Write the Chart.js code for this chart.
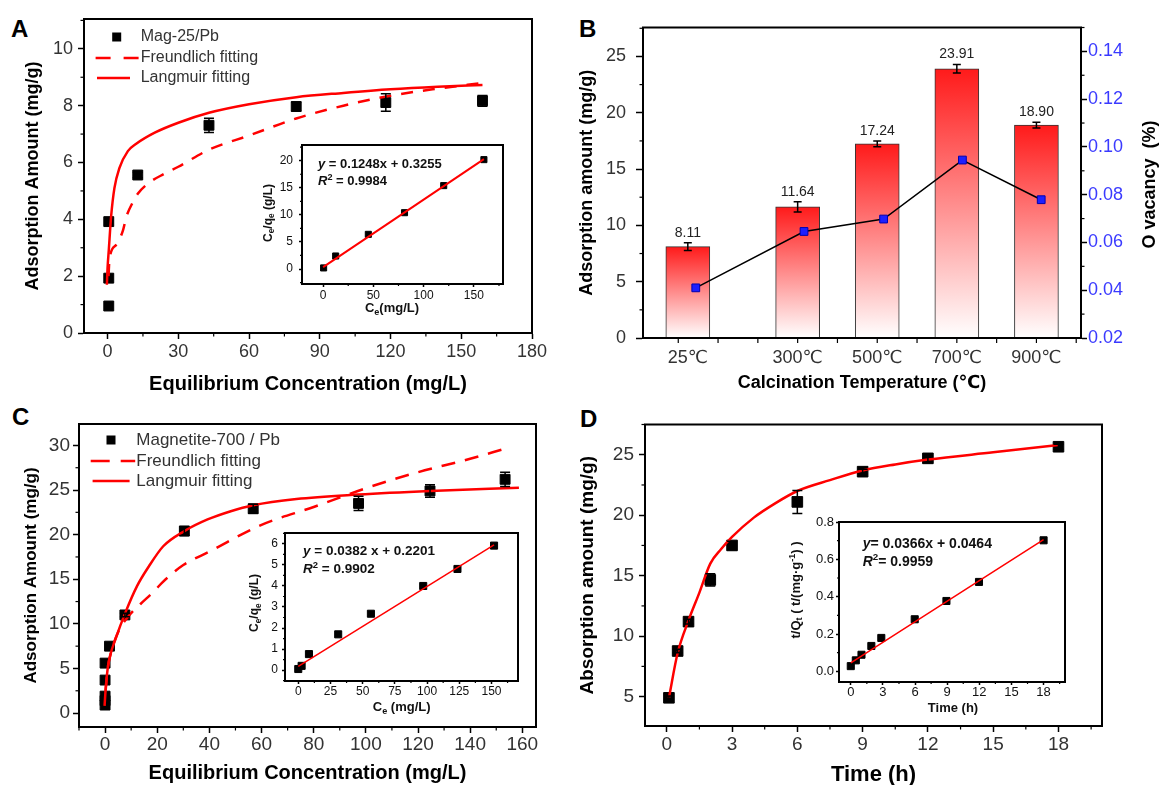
<!DOCTYPE html>
<html>
<head>
<meta charset="utf-8">
<script src="https://cdn.jsdelivr.net/npm/chart.js@4.4.1/dist/chart.umd.min.js"></script>
<style>
body { margin: 0; width: 1161px; height: 785px; overflow: hidden; background: #fff; position: relative; }
canvas { position: absolute; }
.letter { position: absolute; font: bold 24px Arial, "Liberation Sans", sans-serif; line-height: 24px; color: #000; }
</style>
</head>
<body>
<div class="letter" style="left:11px;top:17px">A</div>
<div class="letter" style="left:579px;top:17px">B</div>
<div class="letter" style="left:12px;top:405px">C</div>
<div class="letter" style="left:580px;top:407px">D</div>
<canvas id="cA"></canvas>
<canvas id="cAin"></canvas>
<canvas id="cB"></canvas>
<canvas id="cC"></canvas>
<canvas id="cCin"></canvas>
<canvas id="cD"></canvas>
<canvas id="cDin"></canvas>
<script>
// ---- panel A: Mag-25/Pb isotherm
const aCe = [0.5, 0.5, 0.5, 12.8, 43, 80, 118, 159]
const aQe = [0.95, 1.93, 3.92, 5.56, 7.31, 7.97, 8.11, 8.17]
const aErr = [0, 0, 0, 0.1, 0.25, 0.15, 0.31, 0.19]
const aLangX = [-0.3, 0, 0.5, 1.5, 2.9, 5, 8.6, 12, 20, 30, 43, 60, 80, 100, 120, 140, 159]
const aLangY = [1.7, 2.3, 2.9, 4.1, 5.1, 5.8, 6.4, 6.65, 7.05, 7.4, 7.75, 8.05, 8.3, 8.45, 8.58, 8.67, 8.73]
const aFreuX = [0.4, 0.8, 3.6, 6.5, 8, 10.7, 12.8, 17.8, 24, 30, 43, 60, 80, 100, 120, 140, 159]
const aFreuY = [2.0, 2.6, 3.1, 3.6, 4.1, 4.6, 4.9, 5.3, 5.6, 5.85, 6.45, 6.95, 7.55, 8.0, 8.35, 8.6, 8.8]
const aXTicks = [0, 30, 60, 90, 120, 150, 180]
const aYTicks = [0, 2, 4, 6, 8, 10]
// inset A: linear Langmuir form
const aInX = [0.5, 12.5, 45, 81, 120, 160]
const aInY = [0.2, 2.4, 6.4, 10.4, 15.4, 20.2]
const aFitX = [0, 160]
const aFitY = [0.35, 20.3]
const aInXTicks = [0, 50, 100, 150]
const aInYTicks = [0, 5, 10, 15, 20]

// ---- panel B: calcination temperature
const tempLabels = ['25℃', '300℃', '500℃', '700℃', '900℃']
const tempPos = [0.62, 2, 3, 4, 5]
const adsorb = [8.11, 11.64, 17.24, 23.91, 18.90]
const adsorbErr = [0.35, 0.45, 0.25, 0.37, 0.25]
const vacPos = [0.72, 2.08, 3.08, 4.07, 5.06]
const vacancy = [0.041, 0.0646, 0.0698, 0.0945, 0.0779]
const bLeftTicks = [0, 5, 10, 15, 20, 25]
const bRightTicks = [0.02, 0.04, 0.06, 0.08, 0.10, 0.12, 0.14]
const bTickMarks = [0.5, 1, 1.5, 2, 2.5, 3, 3.5, 4, 4.5, 5, 5.5]

// ---- panel C: Magnetite-700/Pb isotherm
const cCe = [0, 0, 0, 0, 0, 1.7, 7.6, 30.4, 56.8, 97.2, 124.6, 153.4]
const cQe = [0.9, 1.4, 1.9, 3.7, 5.6, 7.5, 11.0, 20.4, 22.9, 23.5, 24.9, 26.2]
const cErr = [0, 0, 0, 0, 0, 0, 0.2, 0.5, 0.5, 0.8, 0.7, 0.8]
const cLangX = [-0.2, 0.3, 1, 2, 4, 7.7, 12.2, 16.7, 22.3, 30.4, 39.3, 47.9, 56.8, 73.4, 97, 124.6, 158.7]
const cLangY = [0.8, 3.0, 5.0, 6.5, 8.3, 11.2, 14.2, 16.4, 18.7, 20.4, 21.7, 22.6, 23.3, 24.0, 24.5, 24.9, 25.25]
const cFreuX = [0.2, 1, 2.5, 5.2, 9.7, 13.5, 18.6, 21.8, 26, 30, 40, 60, 80, 100, 120, 140, 153]
const cFreuY = [2.5, 5.0, 7.0, 9.2, 11.1, 12.2, 13.6, 14.6, 15.7, 16.6, 18.1, 21.1, 23.1, 25.2, 27.0, 28.5, 29.6]
const cXTicks = [0, 20, 40, 60, 80, 100, 120, 140, 160]
const cYTicks = [0, 5, 10, 15, 20, 25, 30]
// inset C
const cInX = [0, 2.6, 8.3, 31, 56.4, 97, 123.6, 152]
const cInY = [0.05, 0.2, 0.76, 1.7, 2.68, 4.0, 4.81, 5.92]
const cFitX = [0, 152]
const cFitY = [0.18, 5.95]
const cInXTicks = [0, 25, 50, 75, 100, 125, 150]
const cInYTicks = [0, 1, 2, 3, 4, 5, 6]

// ---- panel D: kinetics
const tHours = [0.1, 0.5, 1, 2, 3, 6, 9, 12, 18]
const dQt = [4.9, 8.77, 11.2, 14.65, 17.5, 21.1, 23.6, 24.7, 25.66]
const dErr = [0.15, 0.15, 0.2, 0.5, 0.35, 0.95, 0.2, 0.35, 0.2]
const dFitX = [0.1, 0.5, 1, 1.5, 2, 2.5, 3, 4, 5, 6, 7.5, 9, 10.5, 12, 15, 18]
const dFitY = [4.9, 8.6, 11.3, 13.6, 16.0, 17.2, 18.2, 19.8, 21.0, 22.0, 22.9, 23.7, 24.2, 24.6, 25.2, 25.8]
const dXTicks = [0, 3, 6, 9, 12, 15, 18]
const dYTicks = [5, 10, 15, 20, 25]
// inset D: pseudo-second-order
const dInX = [0, 0.47, 1, 1.92, 2.85, 5.97, 8.93, 11.97, 18]
const dInY = [0.028, 0.059, 0.089, 0.136, 0.179, 0.279, 0.377, 0.479, 0.702]
const dLinX = [0, 18]
const dLinY = [0.045, 0.706]
const dInXTicks = [0, 3, 6, 9, 12, 15, 18]
const dInYTicks = [0, 0.2, 0.4, 0.6, 0.8]

const FONT = "Arial, 'Liberation Sans', 'DejaVu Sans', sans-serif"
const RED = '#ff0000'
Chart.defaults.font.family = FONT

function pts(xs, ys) {
    return xs.map((x, i) => ({ x: x, y: ys[i] }))
}

function axis(o) {
    const horiz = o.pos === 'bottom'
    return {
        type: 'linear', position: o.pos, min: o.min, max: o.max, offset: false,
        afterBuildTicks: s => { s.ticks = o.ticks.map(v => ({ value: v })) },
        afterFit: s => {
            if (horiz) s.height = o.size
            else s.width = o.size
            s.paddingLeft = 0; s.paddingRight = 0; s.paddingTop = 0; s.paddingBottom = 0
        },
        grid: { offset: false, drawOnChartArea: false, drawTicks: o.tick > 0, tickLength: o.tick || 0, tickColor: '#000', tickWidth: o.tw || 1.5 },
        border: { color: '#000', width: 2 },
        ticks: {
            autoSkip: false, maxRotation: 0, padding: o.pad, color: o.color || '#333',
            font: { family: FONT, size: o.font }, callback: o.fmt || (v => v)
        },
        title: {
            display: !!o.title, text: o.title || '', color: '#000', padding: 0,
            font: { family: FONT, size: o.tsize, weight: 'bold' }
        }
    }
}

function tickMark(c, s, v, len) {
    const p = s.getPixelForValue(v)
    c.beginPath()
    if (s.position === 'bottom') { c.moveTo(p, s.top); c.lineTo(p, s.top + len) }
    else if (s.position === 'left') { c.moveTo(s.right, p); c.lineTo(s.right - len, p) }
    else { c.moveTo(s.left, p); c.lineTo(s.left + len, p) }
    c.stroke()
}

// box around the plot, minor ticks, white fill for insets
const frame = {
    id: 'frame',
    beforeDraw(ch, args, o) {
        if (!o.fill) return
        const a = ch.chartArea
        ch.ctx.save()
        ch.ctx.fillStyle = '#fff'
        ch.ctx.fillRect(a.left, a.top, a.right - a.left, a.bottom - a.top)
        ch.ctx.restore()
    },
    afterDraw(ch, args, o) {
        const a = ch.chartArea, c = ch.ctx
        c.save()
        c.strokeStyle = '#000'
        c.lineWidth = 2
        c.strokeRect(a.left, a.top, a.right - a.left, a.bottom - a.top)
        c.lineWidth = 1.2
        for (const id of o.minor || []) {
            const s = ch.scales[id], v = s.ticks.map(t => t.value)
            const step = v[1] - v[0]
            for (let m = v[0] - step / 2; m <= s.max + 1e-9; m += step) {
                if (m < s.min - 1e-9) continue
                tickMark(c, s, m, o.mlen)
            }
        }
        if (o.marks) {
            for (const m of o.marks.values) tickMark(c, ch.scales[o.marks.id], m, o.marks.len)
        }
        c.restore()
    }
}

const errBars = {
    id: 'errBars',
    afterDatasetsDraw(ch, args, o) {
        const c = ch.ctx
        c.save()
        c.strokeStyle = '#000'
        c.lineWidth = 1.5
        ch.data.datasets.forEach(ds => {
            if (!ds.err) return
            const xs = ch.scales[ds.xAxisID || 'x'], ys = ch.scales[ds.yAxisID || 'y']
            ds.data.forEach((p, i) => {
                const e = ds.err[i]
                if (!e) return
                const x = xs.getPixelForValue(p.x)
                const y1 = ys.getPixelForValue(p.y - e), y2 = ys.getPixelForValue(p.y + e)
                const w = o.cap || 4
                c.beginPath()
                c.moveTo(x, y1); c.lineTo(x, y2)
                c.moveTo(x - w, y1); c.lineTo(x + w, y1)
                c.moveTo(x - w, y2); c.lineTo(x + w, y2)
                c.stroke()
            })
        })
        c.restore()
    }
}

function drawParts(c, x, y, it) {
    const fontOf = p => (p.i ? 'italic ' : '') + (it.bold ? 'bold ' : '') +
        ((p.sub || p.sup) ? it.size * 0.7 : it.size) + 'px ' + FONT
    let w = 0
    for (const p of it.parts) { c.font = fontOf(p); w += c.measureText(p.t).width }
    c.translate(x, y)
    if (it.rot) c.rotate(it.rot)
    let cx = it.align === 'center' ? -w / 2 : 0
    c.textBaseline = 'middle'
    c.textAlign = 'left'
    for (const p of it.parts) {
        c.font = fontOf(p)
        const dy = p.sub ? it.size * 0.3 : p.sup ? -it.size * 0.3 : 0
        c.fillText(p.t, cx, dy)
        cx += c.measureText(p.t).width
    }
}

// legends, equations and rotated titles, placed from the plot's top-left corner
const notes = {
    id: 'notes',
    afterDraw(ch, args, o) {
        const a = ch.chartArea, c = ch.ctx
        for (const it of o.items || []) {
            c.save()
            const x = a.left + it.x, y = a.top + it.y
            c.fillStyle = it.color || '#000'
            c.strokeStyle = it.color || '#000'
            if (it.kind === 'square') {
                c.fillRect(x - it.s / 2, y - it.s / 2, it.s, it.s)
            } else if (it.kind === 'line') {
                c.lineWidth = it.w
                c.setLineDash(it.dash || [])
                c.beginPath()
                c.moveTo(x, y)
                c.lineTo(a.left + it.x2, y)
                c.stroke()
            } else {
                drawParts(c, x, y, it)
            }
            c.restore()
        }
    }
}

const barLabels = {
    id: 'barLabels',
    afterDatasetsDraw(ch) {
        const ds = ch.data.datasets[0], xs = ch.scales.x, ys = ch.scales.y, c = ch.ctx
        c.save()
        c.font = '14px ' + FONT
        c.fillStyle = '#222'
        c.textAlign = 'center'
        c.textBaseline = 'bottom'
        ds.data.forEach((p, i) => {
            c.fillText(p.y.toFixed(2), xs.getPixelForValue(p.x), ys.getPixelForValue(p.y + ds.err[i]) - 3)
        })
        c.restore()
    }
}

function make(id, area, yW, xH, rW, padR, config) {
    const cv = document.getElementById(id)
    cv.width = area.r - area.l + yW + rW + padR
    cv.height = area.b - area.t + xH + 6
    cv.style.left = (area.l - yW) + 'px'
    cv.style.top = (area.t - 6) + 'px'
    config.options.responsive = false
    config.options.animation = false
    config.options.events = []
    config.options.layout = { padding: { top: 6, right: padR, left: 0, bottom: 0 } }
    config.options.plugins.legend = { display: false }
    config.options.plugins.tooltip = { enabled: false }
    config.plugins = [frame, errBars, notes].concat(config.plugins || [])
    return new Chart(cv, config)
}

function markers(xs, ys, r, err) {
    return {
        type: 'scatter', data: pts(xs, ys), err: err, pointStyle: 'rect', pointRadius: r,
        pointBackgroundColor: '#000', pointBorderColor: '#000', pointBorderWidth: 1, order: 1
    }
}

function curve(xs, ys, w, dash) {
    return {
        type: 'line', data: pts(xs, ys), pointRadius: 0, borderColor: RED, borderWidth: w,
        borderDash: dash || [], cubicInterpolationMode: 'monotone', fill: false, order: 0
    }
}

function legendItems(label, dashPat, dy0, sq, tx, dash, solid, size) {
    return [
        { kind: 'square', x: sq, y: dy0, s: 9 },
        { x: tx, y: dy0, size: size, color: '#333', parts: [{ t: label }] },
        { kind: 'line', x: dash[0], x2: dash[1], y: dy0 + 21, w: 2.5, dash: dashPat, color: RED },
        { x: tx, y: dy0 + 21, size: size, color: '#333', parts: [{ t: 'Freundlich fitting' }] },
        { kind: 'line', x: solid[0], x2: solid[1], y: dy0 + 41, w: 2.5, color: RED },
        { x: tx, y: dy0 + 41, size: size, color: '#333', parts: [{ t: 'Langmuir fitting' }] }
    ]
}

function eqItems(x, y, eq, r2, size) {
    return [
        { x: x, y: y, size: size, bold: true, color: '#111', parts: [{ t: 'y', i: 1 }, { t: eq }] },
        { x: x, y: y + 17.5, size: size, bold: true, color: '#111', parts: [{ t: 'R', i: 1 }, { t: '2', sup: 1 }, { t: r2 }] }
    ]
}

const ceqe = [{ t: 'C' }, { t: 'e', sub: 1 }, { t: '/q' }, { t: 'e', sub: 1 }, { t: ' (g/L)' }]

// ---------------- A
make('cA', { l: 84, t: 17, r: 532, b: 333 }, 62, 63, 0, 22, {
    type: 'scatter',
    data: { datasets: [
        markers(aCe, aQe, 7, aErr),
        curve(aFreuX, aFreuY, 2.5, [12, 10]),
        curve(aLangX, aLangY, 2.5)
    ] },
    options: {
        scales: {
            x: axis({ pos: 'bottom', min: -10, max: 180, ticks: aXTicks, size: 63, tick: 6, pad: 2, font: 18, title: 'Equilibrium Concentration (mg/L)', tsize: 20 }),
            y: axis({ pos: 'left', min: 0, max: 11.05, ticks: aYTicks, size: 62, tick: 6, pad: 5, font: 18, title: 'Adsorption Amount (mg/g)', tsize: 18 })
        },
        plugins: {
            frame: { minor: ['x', 'y'], mlen: 3.5 },
            errBars: { cap: 5 },
            notes: { items: legendItems('Mag-25/Pb', [15, 13], 18, 32.7, 56.7, [11.6, 55], [13, 46], 16) }
        }
    }
})

make('cAin', { l: 302, t: 145, r: 503, b: 284 }, 41, 32, 0, 22, {
    type: 'scatter',
    data: { datasets: [
        markers(aInX, aInY, 4.3),
        curve(aFitX, aFitY, 2)
    ] },
    options: {
        scales: {
            x: axis({ pos: 'bottom', min: -21, max: 179, ticks: aInXTicks, size: 32, tick: 3, pad: 1, font: 12, color: '#111' }),
            y: axis({ pos: 'left', min: -2.77, max: 22.9, ticks: aInYTicks, size: 41, tick: 3, pad: 6, font: 12, color: '#111' })
        },
        plugins: {
            frame: { fill: true, minor: ['x', 'y'], mlen: 2 },
            notes: { items: eqItems(16, 19, ' = 0.1248x + 0.3255', ' = 0.9984', 13).concat([
                { x: -33.5, y: 68, rot: -Math.PI / 2, align: 'center', size: 12, bold: true, color: '#111', parts: ceqe },
                { x: 90, y: 163.3, align: 'center', size: 13, bold: true, color: '#111', parts: [{ t: 'C' }, { t: 'e', sub: 1 }, { t: '(mg/L)' }] }
            ]) }
        }
    }
})

// ---------------- B
function barFill(ctx) {
    const ch = ctx.chart
    if (!ch.chartArea || ctx.type !== 'data') return '#ff8080'
    const y = ch.scales.y
    const top = y.getPixelForValue(ctx.parsed.y), bot = y.getPixelForValue(0)
    const g = ch.ctx.createLinearGradient(0, top, 0, bot)
    g.addColorStop(0, '#ff1a1a')
    g.addColorStop(1, '#ffffff')
    return g
}

const bX = axis({ pos: 'bottom', min: 0.057, max: 5.56, ticks: tempPos, size: 56, tick: 0, pad: 9, font: 18, title: 'Calcination Temperature (℃)', tsize: 18, fmt: (v, i) => tempLabels[i] })
const bY = axis({ pos: 'left', min: 0, max: 27.57, ticks: bLeftTicks, size: 67, tick: 7, pad: 10, font: 18, title: 'Adsorption amount (mg/g)', tsize: 18 })
const bY1 = axis({ pos: 'right', min: 0.02, max: 0.15, ticks: bRightTicks, size: 80, tick: 6, pad: 1, font: 18, color: '#3a3aff', fmt: v => v.toFixed(2) })

make('cB', { l: 643, t: 27, r: 1081, b: 338 }, 67, 56, 80, 0, {
    type: 'bar',
    data: { datasets: [
        {
            type: 'bar', data: pts(tempPos, adsorb), err: adsorbErr, yAxisID: 'y',
            barThickness: 44, backgroundColor: barFill, borderColor: '#333', borderWidth: 1, order: 1
        },
        {
            type: 'line', data: pts(vacPos, vacancy), yAxisID: 'y1', borderColor: '#000', borderWidth: 1.5,
            pointStyle: 'rect', pointRadius: 5.5, pointBackgroundColor: '#1e1eff', pointBorderColor: '#0000b0',
            pointBorderWidth: 1, tension: 0, order: 0
        }
    ] },
    options: {
        scales: { x: bX, y: bY, y1: bY1 },
        plugins: {
            frame: { minor: ['y', 'y1'], mlen: 3.5, marks: { id: 'x', values: bTickMarks, len: 5 } },
            errBars: { cap: 4 },
            notes: { items: [
                { x: 507, y: 157, rot: -Math.PI / 2, align: 'center', size: 18, bold: true, color: '#000', parts: [{ t: 'O vacancy  (%)' }] }
            ] }
        }
    },
    plugins: [barLabels]
})

// ---------------- C
make('cC', { l: 79, t: 422, r: 536, b: 727 }, 58, 58, 0, 22, {
    type: 'scatter',
    data: { datasets: [
        markers(cCe, cQe, 7, cErr),
        curve(cFreuX, cFreuY, 2.5, [14, 10]),
        curve(cLangX, cLangY, 2.5)
    ] },
    options: {
        scales: {
            x: axis({ pos: 'bottom', min: -10, max: 165.25, ticks: cXTicks, size: 58, tick: 6, pad: 0, font: 19, title: 'Equilibrium Concentration (mg/L)', tsize: 20 }),
            y: axis({ pos: 'left', min: -1.56, max: 32.4, ticks: cYTicks, size: 58, tick: 6, pad: 3, font: 19, title: 'Adsorption Amount (mg/g)', tsize: 17 })
        },
        plugins: {
            frame: { minor: ['x', 'y'], mlen: 3.5 },
            errBars: { cap: 5 },
            notes: { items: legendItems('Magnetite-700 / Pb', [19, 11], 16, 32, 57.3, [11.7, 56.2], [13.6, 50.6], 17) }
        }
    }
})

make('cCin', { l: 285, t: 533, r: 518, b: 681 }, 37, 35, 0, 22, {
    type: 'scatter',
    data: { datasets: [
        markers(cInX, cInY, 5),
        curve(cFitX, cFitY, 1.5)
    ] },
    options: {
        scales: {
            x: axis({ pos: 'bottom', min: -10.3, max: 170.6, ticks: cInXTicks, size: 35, tick: 3, pad: 0, font: 12, color: '#111' }),
            y: axis({ pos: 'left', min: -0.52, max: 6.52, ticks: cInYTicks, size: 37, tick: 3, pad: 4, font: 12, color: '#111' })
        },
        plugins: {
            frame: { fill: true, minor: ['x', 'y'], mlen: 2 },
            notes: { items: eqItems(18, 18.7, ' = 0.0382 x + 0.2201', ' = 0.9902', 13.5).concat([
                { x: -30, y: 70, rot: -Math.PI / 2, align: 'center', size: 12, bold: true, color: '#111', parts: ceqe },
                { x: 116.7, y: 174.7, align: 'center', size: 13, bold: true, color: '#111', parts: [{ t: 'C' }, { t: 'e', sub: 1 }, { t: ' (mg/L)' }] }
            ]) }
        }
    }
})

// ---------------- D
make('cD', { l: 645, t: 422, r: 1102, b: 726 }, 69, 62, 0, 22, {
    type: 'scatter',
    data: { datasets: [
        markers(tHours, dQt, 7.5, dErr),
        curve(dFitX, dFitY, 2.5)
    ] },
    options: {
        scales: {
            x: axis({ pos: 'bottom', min: -1, max: 20, ticks: dXTicks, size: 62, tick: 6, pad: 1, font: 19, title: 'Time (h)', tsize: 22 }),
            y: axis({ pos: 'left', min: 2.57, max: 27.5, ticks: dYTicks, size: 69, tick: 6, pad: 5, font: 19, title: 'Absorption amount (mg/g)', tsize: 19 })
        },
        plugins: {
            frame: { minor: ['x', 'y'], mlen: 3.5 },
            errBars: { cap: 5 }
        }
    }
})

make('cDin', { l: 839, t: 522, r: 1065, b: 682 }, 50, 34, 0, 22, {
    type: 'scatter',
    data: { datasets: [
        markers(dInX, dInY, 5),
        curve(dLinX, dLinY, 1.5)
    ] },
    options: {
        scales: {
            x: axis({ pos: 'bottom', min: -1.1, max: 20, ticks: dInXTicks, size: 34, tick: 3, pad: 0, font: 13, color: '#111' }),
            y: axis({ pos: 'left', min: -0.057, max: 0.8, ticks: dInYTicks, size: 50, tick: 3, pad: 2, font: 13, color: '#111', fmt: v => v.toFixed(1) })
        },
        plugins: {
            frame: { fill: true, minor: ['x', 'y'], mlen: 2 },
            notes: { items: eqItems(23.7, 22.3, '= 0.0366x + 0.0464', '= 0.9959', 14).concat([
                { x: -43, y: 68, rot: -Math.PI / 2, align: 'center', size: 13, bold: true, color: '#111',
                  parts: [{ t: 't/Q' }, { t: 't', sub: 1 }, { t: ' ( t/(mg·g' }, { t: '-1', sup: 1 }, { t: ') )' }] },
                { x: 114, y: 186, align: 'center', size: 13, bold: true, color: '#111', parts: [{ t: 'Time (h)' }] }
            ]) }
        }
    }
})
</script>
</body>
</html>
